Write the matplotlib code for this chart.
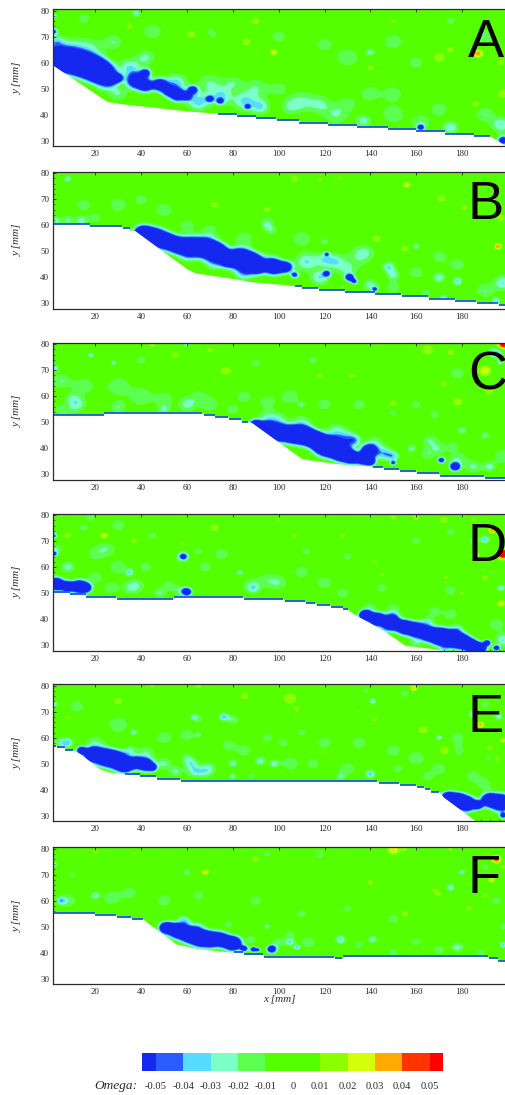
import numpy as np
import matplotlib
matplotlib.use('Agg')
import matplotlib.pyplot as plt
from matplotlib.colors import ListedColormap, BoundaryNorm
from matplotlib.ticker import MultipleLocator

# wall outline of each panel, x and y in mm. flat pieces get the blue line
wall_x_a = [1.7, 25, 32, 45, 60, 73.5, 73.5, 82, 82, 90, 90, 98.7, 99.4, 109, 109, 121.5, 121.5, 134, 134, 147.5, 147.5, 160, 160, 172.5, 172.5, 185, 185, 192, 199.2]
wall_y_a = [59, 45.2, 44.2, 43, 41.5, 40.6, 40.3, 40.3, 39.4, 39.4, 38.6, 38.6, 37.9, 37.9, 37, 37, 36, 36, 35.3, 35.3, 34.5, 34.5, 33.7, 33.7, 32.8, 32.8, 31.9, 31.9, 28]
wall_x_b = [1.5, 17.5, 17.5, 31.5, 32, 35, 35, 37, 59.7, 63.4, 72.8, 81.5, 88, 102, 107, 110, 110, 117, 117.6, 129, 129, 142, 142, 153.5, 153.8, 165, 165.5, 177, 177, 186, 186.5, 195.7, 196, 199.2]
wall_y_b = [60.5, 60.5, 59.7, 59.7, 59, 59, 58, 58.1, 43.4, 41.7, 40.5, 39.3, 38.3, 37.2, 36.7, 36.7, 36, 36, 35.2, 35.2, 34.4, 34.4, 33.6, 33.6, 32.7, 32.7, 31.8, 31.8, 31, 31, 30.2, 30.2, 29.2, 29.2]
wall_x_c = [1.5, 23.6, 24, 66.7, 67.3, 72, 72.4, 78, 78.3, 83.7, 84, 86.6, 88, 110, 118, 125, 132.5, 140.4, 141, 145.5, 146, 152.4, 153, 160, 160.5, 170, 170.5, 189.5, 190, 199.2]
wall_y_c = [52.8, 52.8, 53.7, 53.7, 52.8, 52.8, 52, 52, 51.1, 51.1, 50.2, 50.2, 50, 36, 35, 34.1, 33.5, 33.1, 32.7, 32.7, 31.9, 31.9, 31.2, 31.2, 30.3, 30.3, 29.4, 29.4, 28.6, 28.6]
wall_x_d = [1.5, 8.8, 9, 15.8, 16, 29, 29.5, 54, 54.3, 84.4, 84.9, 102, 102.6, 111.3, 111.8, 116, 116.7, 122.5, 123, 128, 128, 130, 132.4, 145.5, 155, 167.3, 177.5, 199.2]
wall_y_d = [50.4, 50.4, 49.6, 49.6, 48.7, 48.7, 47.8, 47.8, 48.7, 48.7, 47.8, 47.8, 47, 47, 46.2, 46.2, 45.5, 45.5, 44.6, 44.6, 43.8, 43.8, 42.2, 35.8, 30, 28.7, 27, 26.9]
wall_x_e = [1.5, 3, 3.3, 6.6, 7, 10.5, 13.2, 22, 26.3, 32.8, 32.8, 39.3, 39.6, 46.6, 47, 56.8, 57.2, 143, 143.6, 152.4, 152.8, 160, 160.5, 163.3, 163.7, 166, 166.3, 170, 171.7, 186.3, 199.2]
wall_y_e = [57, 57, 56.3, 56.3, 55.3, 55.3, 54, 48, 46.8, 46.2, 46, 46, 45.3, 45.3, 44.3, 44.3, 43.5, 43.5, 42.8, 42.8, 42, 42, 41.1, 41.1, 40.3, 40.3, 39.3, 39.3, 37.3, 27.7, 27.6]
wall_x_f = [1.5, 19.7, 20, 29, 29.5, 35.7, 36, 40.8, 43, 55.3, 64, 74.3, 80, 80.4, 84.4, 84.9, 93, 93.5, 124, 124.6, 127.8, 128, 191.3, 191.7, 195.4, 195.8, 199.2]
wall_y_f = [55.4, 55.4, 54.5, 54.5, 53.6, 53.6, 52.9, 52.9, 51.3, 43.3, 41.6, 40.6, 40.1, 40.2, 40.2, 39.3, 39.3, 38.4, 38.4, 37.8, 37.8, 38.5, 38.5, 37.8, 37.8, 36.9, 36.9]

# omega: x, y, value, radius of the spot
omega_a = [
    (4, 61.5, -.15, 3.6), (9, 60.5, -.15, 3.6), (14, 59.5, -.15, 3.6), (19, 58, -.15, 3.8), (23, 56, -.15, 3.3), (27, 54, -.1, 2), (30, 54, -.08, 1.4),
    (38, 53, -.1, 2.8), (42, 51, -.08, 2.2), (42, 56, -.07, 1.6), (48, 51.5, -.09, 2.3), (52, 49, -.07, 2), (56, 47.5, -.1, 2.2), (60, 47, -.07, 1.5), (62.5, 49.5, -.08, 1.5),
    (70, 46, -.07, 1.1), (74.5, 45.2, -.07, 1), (86.5, 43, -.07, .8), (162, 35, -.08, 1), (198, 30, -.08, 1.6), (2, 72, -.05, 1.2), (2, 78, -.03, 1),
    (25, 52, -.03, 3), (35, 58, -.03, 3.5), (55, 52, -.035, 3.5), (65, 45, -.035, 3.5), (75, 47, -.03, 3.5), (85, 45, -.03, 3.5), (92, 43, -.03, 3),
    (70, 52, -.02, 4), (80, 52, -.018, 3), (90, 50, -.02, 4), (100, 50, -.015, 3), (42, 62, -.022, 3), (30, 48, -.02, 3),
    (3, 68, -.03, 2.5), (10, 66, -.02, 4), (18, 66, -.018, 4), (28, 68, -.02, 3), (137, 37.5, -.025, 2.5), (162, 37, -.02, 3), (175, 35, -.03, 2.5),
    (150, 40, -.018, 4), (125, 40, -.02, 4), (110, 45, -.022, 4), (118, 44, -.02, 3.5), (105, 43, -.018, 3), (130, 44, -.015, 3), (140, 48, -.015, 4),
    (150, 48, -.018, 3), (170, 42, -.018, 3), (190, 40, -.02, 3), (197, 36, -.03, 3), (15, 77, -.015, 2.5), (38, 79, -.025, 1.5), (45, 72, -.015, 4),
    (70, 71, -.015, 3), (100, 70, -.015, 3), (120, 67, -.016, 3), (130, 62, -.018, 4), (140, 64, -.025, 1.5), (150, 68, -.015, 4), (160, 60, -.015, 3),
    (175, 76, -.02, 1.5), (190, 70, -.015, 4),
    (35, 74, .013, 2), (62, 71, .015, 2), (68, 70, .013, 1.5), (86, 68, .015, 2), (98, 64, .025, 1.4), (90, 76, .014, 2), (140, 58, .015, 1.5),
    (170, 62, .015, 2.5), (187, 63.5, .04, 1.6), (175, 65, .012, 2), (197, 60, .013, 2), (198, 48, .013, 3), (186, 44, .022, 1.2), (150, 76, .012, 1.5),
]
omega_b = [
    (41, 57, -.15, 2.6), (46, 55.5, -.15, 3), (51, 54, -.15, 2.6), (56, 52.5, -.15, 2.6), (62, 52, -.15, 3), (68, 51.5, -.15, 3.2), (73, 50, -.15, 2.8),
    (78, 47, -.15, 2.4), (83, 47.5, -.15, 3.2), (88, 46, -.15, 3), (91, 44, -.12, 2.2), (98, 44, -.13, 2.5), (103, 44, -.1, 2), (107, 41, -.06, 1.2),
    (121, 41.5, -.07, 1.1), (121, 49, -.05, .7), (131, 40, -.09, 1.3), (133, 38.5, -.06, 1), (142, 35.5, -.06, .8),
    (85, 42, -.035, 3), (72, 46, -.03, 3), (60, 49, -.025, 3), (96, 46, -.03, 3), (112, 46, -.03, 3.5), (120, 47, -.025, 3), (125, 46, -.025, 3),
    (118, 40, -.03, 3), (130, 43, -.02, 3), (140, 37, -.025, 2.5), (148, 44, -.03, 2), (150, 41, -.025, 2), (170, 40, -.028, 2), (178, 38.5, -.032, 1.6),
    (172, 32, -.03, 1.3), (190, 35, -.02, 3), (198, 38, -.03, 3), (195, 31, -.03, 1.4), (150, 50, -.015, 3), (135, 48, -.018, 4), (160, 42, -.015, 3),
    (95, 60, -.016, 1.8), (97, 58, -.016, 1.8), (95, 62, -.012, 3), (85, 55, -.018, 3), (70, 58, -.016, 3), (50, 66, -.018, 3), (30, 68, -.018, 3),
    (15, 68, -.018, 2.5), (8, 62, -.022, 2), (14, 62, -.025, 2), (20, 63, -.018, 2), (40, 70, -.014, 3), (8, 78, -.03, 1.2), (3, 62, -.025, 1.5),
    (60, 60, -.015, 3), (110, 55, -.015, 4), (120, 54, -.02, 1.3), (178, 45, -.015, 3), (164, 34, -.015, 2), (150, 36, -.015, 3), (160, 52, -.025, 1.2),
    (170, 48, -.015, 3), (138, 50, -.014, 3),
    (72, 68, .015, 1.6), (95, 66, .015, 2), (107, 78, .014, 2), (118, 77.7, .012, 1.5), (126.6, 78, .012, 1.5), (156, 75.7, .025, 1.3), (171, 70.5, .014, 2),
    (155, 51, .022, 1.3), (142.6, 54.8, .015, 2), (195.7, 52, .04, 1.2), (197, 63, .018, 1.5), (181, 67, .013, 2), (128, 36.3, .013, 1), (151, 50.5, .013, 2),
]
omega_c = [
    (90, 49, -.13, 1.8), (95, 47.5, -.15, 2.4), (100, 46, -.15, 2.8), (106, 45.5, -.15, 2.8), (111, 45, -.15, 3), (116, 43.5, -.15, 2.6), (120, 41, -.15, 3),
    (124, 40.5, -.15, 3.2), (128, 38, -.15, 2.6), (132, 36.5, -.15, 2), (137, 36, -.13, 2), (139.5, 39, -.13, 2.2), (140, 35, -.1, 1.5),
    (150, 34.5, -.06, .8), (171, 35.5, -.08, 1), (177, 33, -.1, 1.5),
    (130, 44, -.03, 3), (133, 43, -.03, 2), (125, 47, -.022, 3), (146, 38, -.035, 2.5), (142, 42, -.02, 3), (150, 37, -.03, 2), (170, 40, -.018, 2.5),
    (165, 38, -.018, 2.5), (176, 41, -.018, 1.8), (185, 33, -.022, 2.5), (178, 36, -.02, 3), (192, 33, -.025, 2), (158, 40, -.025, 1.5), (166, 43, -.02, 2.5),
    (110, 50, -.02, 3), (100, 51, -.02, 3), (95, 52, -.018, 3), (105, 60, -.016, 3.5), (110, 57, -.02, 1.2), (95, 58, -.015, 3), (85, 60, -.015, 3),
    (80, 55, -.015, 2.5), (120, 57, -.015, 3), (180, 47, -.022, 1.7), (190, 45, -.022, 1.5), (198, 37, -.02, 3),
    (10, 59, -.02, 2.5), (13, 57, -.018, 2.5), (5, 55, -.018, 2), (10, 55, -.012, 2.5), (5, 66, -.02, 3), (15, 64, -.016, 4), (30, 64, -.018, 4),
    (30, 56, -.02, 2.5), (40, 60, -.018, 4), (50, 59, -.018, 3), (60, 57, -.024, 2.8), (50, 55, -.02, 2), (65, 60, -.015, 3), (70, 57, -.018, 3),
    (2, 71, -.03, 1.5), (18, 76, -.03, 1), (28, 73, -.025, 1), (60, 80, -.025, 1), (40, 74, -.015, 2), (135, 57, -.014, 3), (150, 54, -.016, 2),
    (160, 57, -.016, 2), (168, 53, -.015, 2), (195, 77, -.04, 2.2), (197, 73, -.03, 1.4), (178, 69, -.015, 3), (90, 73, -.015, 2), (115, 74, -.014, 2),
    (77, 70, .016, 2.2), (55, 76, .013, 2), (45, 80, .012, 2), (70, 78, .012, 2), (165, 78, .014, 3), (175, 77, .013, 2), (190, 70, .03, 2),
    (198, 80, .06, 2), (198, 72, .015, 1.5), (150, 57, .013, 2.5), (178, 58, .014, 2.5), (172, 65, .015, 1.5), (192, 62, .015, 2), (132, 68, .012, 1.5), (118, 68, .013, 1.5),
]
omega_d = [
    (3, 53.5, -.13, 2.2), (8, 52.5, -.12, 1.8), (13, 52.5, -.13, 2.2), (16, 52, -.1, 1.6), (2, 65, -.06, 1), (2, 72, -.05, 1),
    (58.5, 64, -.07, .9), (58, 64, -.03, 2.2), (60, 50.5, -.1, 1.4), (57, 51, -.02, 2),
    (138, 41.5, -.15, 1.8), (143, 40, -.15, 2.2), (149, 38.5, -.15, 2.4), (155, 37, -.15, 2.3), (160, 36, -.15, 2.4), (165, 34.5, -.15, 2.2),
    (170, 33.5, -.15, 2.8), (175, 32.5, -.15, 2.8), (180, 31.5, -.15, 2.4), (184, 30, -.15, 2), (188, 29, -.13, 1.8), (191, 31, -.1, 1), (195, 29, -.08, 1),
    (150, 41, -.025, 2), (165, 39, -.025, 2), (178, 36, -.025, 2), (145, 35, -.02, 1.5), (160, 31, -.018, 2), (172, 28, -.02, 1.6), (198, 32, -.03, 2.5),
    (195, 38, -.016, 3), (140, 45, -.016, 2), (150, 44, -.016, 2.5), (168, 43, -.02, 2), (175, 42, -.018, 2.5),
    (89, 52, -.02, 2), (88, 53, -.014, 3.5), (83, 58, -.025, 1.1), (30, 60, -.018, 3), (35, 58, -.03, 1.3), (38, 53, -.018, 3), (48, 50, -.02, 2),
    (52, 53, -.015, 2.5), (20, 56, -.015, 3), (27, 52, -.018, 2.5), (35, 52, -.015, 2.5), (8, 60, -.025, 2.2), (25, 67, -.018, 3), (20, 65, -.015, 3),
    (42, 60, -.015, 2.5), (68, 60, -.02, 2), (75, 65, -.015, 3), (110, 58, -.015, 3), (100, 54, -.018, 3), (120, 54, -.016, 3), (95, 55, -.014, 3),
    (128, 50, -.016, 2.5), (145, 52, -.016, 2), (175, 51, -.02, 2), (190, 70.5, -.035, 1.5), (185, 70, -.02, 1.5), (197, 52, -.03, 1.3), (160, 70, -.015, 2),
    (175, 73.5, -.02, 1.5), (130, 64, -.014, 2), (112, 66, -.014, 2), (18, 79, -.014, 2), (30, 76, -.015, 3), (45, 72, -.014, 2), (15, 75, -.014, 2),
    (65, 66, -.014, 2), (3, 67, -.02, 2),
    (24, 72, .025, 1.5), (8, 72, .013, 2), (37, 70, .014, 1.5), (72, 75, .015, 2), (58, 69, .013, 1.2), (100, 78, .012, 1.5), (107, 72, .012, 1.5),
    (128, 72, .012, 1.5), (142, 62, .012, 1.2), (145, 57, .012, 1.5), (172, 78, .018, 1.5), (160, 79, .013, 2), (150, 79, .012, 2), (186, 64.5, .03, 1.3),
    (198, 65, .08, 1.8), (188, 76, .02, 1), (193, 74, .04, 1.1), (197, 46, .028, 1.3), (185, 78, .016, 1), (190, 56, .014, 1.5), (180, 50, .013, 1.5), (173, 56, .012, 1.5),
]
omega_e = [
    (14, 55, -.1, 1.4), (19, 53.5, -.14, 2.4), (24, 52.5, -.15, 2.8), (29, 51.5, -.15, 2.8), (33, 49.5, -.15, 2.5), (38, 50.5, -.1, 2), (42, 49.5, -.12, 2.2), (45, 48.5, -.08, 1.3),
    (174, 37, -.13, 1.9), (178, 36, -.15, 2.3), (182, 34.5, -.15, 2.5), (187, 34, -.12, 1.4), (192, 36, -.14, 2.2), (197, 35, -.15, 2.8), (198, 30, -.07, 1.1),
    (8, 58, -.03, 1.8), (5, 58, -.02, 2.3), (20, 58, -.018, 3), (35, 55, -.022, 2), (42, 54, -.02, 3), (50, 50, -.022, 2.5), (55, 47, -.022, 2),
    (62, 50, -.022, 2.2), (65, 47, -.02, 2.2), (69, 47, -.02, 2.3), (70, 49, -.012, 2.5), (60, 52, -.018, 2), (62, 47, -.014, 2.5),
    (80, 45, -.025, 1.2), (88, 45, -.02, 1.2), (80, 50, -.025, 1.5), (92, 51, -.025, 1.8), (98, 50, -.028, 1.5), (105, 50, -.018, 3), (115, 50, -.016, 2.5),
    (140, 46, -.035, 1.6), (130, 48, -.016, 3), (127, 45, -.02, 1.5), (178, 55, -.015, 3), (160, 52, -.016, 3.5), (150, 55, -.018, 2.5), (170, 48, -.018, 2.5),
    (185, 45, -.015, 3), (165, 45, -.018, 2), (152, 48, -.015, 2), (190, 42, -.016, 2.5),
    (76, 68, -.035, 1.5), (80, 67, -.02, 2), (63, 68, -.025, 1.1), (65, 67, -.014, 2), (30, 65, -.016, 4), (37, 62, -.025, 1.2), (50, 60, -.016, 3),
    (60, 61, -.015, 3), (65, 61, -.02, 1), (2, 73, -.03, 1.2), (12, 72, -.018, 2.5), (85, 55, -.015, 3), (78, 57, -.016, 2.5), (95, 60, -.016, 2),
    (102, 58, -.016, 2), (110, 62, -.014, 2), (120, 58, -.015, 3), (135, 58, -.015, 3), (170, 60, -.028, 1.1), (178, 60, -.016, 2.5), (185, 69, -.03, 1.6),
    (196, 68, -.03, 1.2), (141, 74, -.03, 1.2), (138, 78, -.014, 1.5), (175, 72, -.015, 2), (190, 73, -.015, 2), (155, 77, -.014, 2), (192, 52, -.02, 1.2),
    (159, 79, .032, 1.2), (30, 74, .015, 2), (8, 68, .012, 1.5), (85, 76, .014, 2), (105, 75, .018, 2.5), (108, 71, .012, 1.5), (135, 70, .012, 1.2),
    (142, 67, .012, 1.5), (175, 73, .016, 2), (163, 63, .016, 2), (173, 55, .018, 2.5), (188, 65, .035, 1.2), (198, 59, .025, 1.1), (195, 52, .013, 1.8),
    (192, 56, .012, 2), (120, 54, .014, 1.2), (65, 80, .012, 2), (45, 80, .012, 1.5),
]
omega_f = [
    (51, 49.5, -.13, 2), (56, 48.5, -.15, 2.5), (61, 47, -.15, 2.6), (66, 45.5, -.15, 2.8), (71, 45, -.15, 2.5), (76, 44.5, -.12, 2), (80, 43.5, -.15, 2.4),
    (85, 41.5, -.08, 1.1), (89, 41.2, -.08, 1), (91, 41, -.06, .7), (97, 41.3, -.1, 1.4),
    (65, 50, -.018, 2), (75, 47, -.022, 2), (88, 45, -.02, 1.6), (100, 44, -.02, 2), (105, 44, -.03, 1.5), (108, 42, -.035, 1), (113, 44, -.018, 2.5),
    (95, 50, -.025, 1), (60, 52, -.02, 1.5), (58, 53, -.02, 1.5), (78, 51, -.018, 1.5), (127, 45, -.02, 1.4), (127, 45, -.012, 2.5), (141, 45, -.025, 1.5),
    (150, 40, -.02, 1.5), (170, 41, -.018, 2), (178, 42, -.025, 2), (188, 40, -.02, 1.5), (198, 43, -.035, 1.2), (160, 44, -.015, 2), (135, 43, -.014, 2),
    (105, 47, -.014, 2), (20, 62, -.03, 1.4), (5, 60, -.03, 1.5), (8, 60, -.018, 3), (27, 61, -.018, 3), (35, 63, -.015, 3), (50, 60, -.015, 3),
    (65, 62, -.018, 2), (90, 60, -.015, 2.5), (110, 55, -.015, 2), (130, 57, -.014, 2), (118, 78, -.014, 2), (118, 72, -.016, 3), (150, 53, -.018, 2),
    (175, 65, -.03, 1.3), (170, 60, -.012, 2), (180, 71, -.04, .8), (2, 74, -.03, 1), (198, 50, -.02, 1.2), (195, 60, -.016, 2), (10, 70, -.012, 2),
    (60, 71, -.014, 2), (95, 78, -.013, 2), (190, 73, -.016, 1.5),
    (68, 71, .028, 1.2), (150, 79.5, .03, 1.8), (155, 80, .012, 2), (175, 80, .012, 1.5), (20, 79, .012, 1.5), (37, 78, .013, 1.2), (90, 76, .014, 1.8),
    (118, 71, .012, 2), (195, 76, .05, 1.4), (193, 68, .03, 1.1), (168, 64, .012, 1.5), (170, 62, .016, 1.5), (190, 62, .013, 1.5), (172, 58, .012, 1),
    (183, 57, .014, 1.4), (155, 55, .018, 1.3), (125, 56, .012, 1), (198, 73, .013, 1.5), (140, 67, .014, 1.5),
]

panel_names = ['A', 'B', 'C', 'D', 'E', 'F']
panel_omega = [omega_a, omega_b, omega_c, omega_d, omega_e, omega_f]
panel_wall_x = [wall_x_a, wall_x_b, wall_x_c, wall_x_d, wall_x_e, wall_x_f]
panel_wall_y = [wall_y_a, wall_y_b, wall_y_c, wall_y_d, wall_y_e, wall_y_f]

levels = [-0.05, -0.04, -0.03, -0.02, -0.01, 0, 0.01, 0.02, 0.03, 0.04, 0.05]
level_labels = ['-0.05', '-0.04', '-0.03', '-0.02', '-0.01', '0', '0.01', '0.02', '0.03', '0.04', '0.05']
level_colors = ['#1428f0', '#2b5cff', '#55ddff', '#7dffc8', '#5cff50', '#55ff00', '#55ff00',
                '#8cff00', '#d4ff0a', '#ffaa00', '#ff3300', '#ff0000']

W, H = 506, 1095
tops = [9.3, 171.7, 342.7, 513.7, 684.3, 847]
letter_base = [57.3, 219, 390, 560.7, 731.7, 893.3]
ax_h = 137
ax_left = 53.3
serif = 'Liberation Serif'
dark = '#2a2a2a'

cmap = ListedColormap(level_colors)
norm = BoundaryNorm([-9] + levels + [9], cmap.N)

fig = plt.figure(figsize=(W / 100, H / 100), dpi=100)

xs = np.linspace(1.7, 199.1, 900)
ys = np.linspace(27.9, 80.6, 550)
xx, yy = np.meshgrid(xs, ys)

for i, name in enumerate(panel_names):
    ax = fig.add_axes([ax_left / W, 1 - (tops[i] + ax_h) / H, (W - ax_left) / W, ax_h / H])

    field = np.zeros_like(xx)
    for x0, y0, w, r in panel_omega[i]:
        field += w * np.exp(-((xx - x0) / (1.4 * r)) ** 2 - ((yy - y0) / r) ** 2)
    ax.imshow(field, origin='lower', extent=[xs[0], xs[-1], ys[0], ys[-1]], aspect='auto', cmap=cmap, norm=norm,
              interpolation='antialiased', interpolation_stage='rgba')

    # white below the wall, blue line along its flat pieces
    wx = np.array(panel_wall_x[i])
    wy = np.array(panel_wall_y[i])
    ax.fill_between(wx, 20, wy, color='white', lw=0, zorder=2)
    for k in range(len(wx) - 1):
        if wy[k] == wy[k + 1]:
            ax.plot(wx[k:k + 2], wy[k:k + 2], color='#1a50f0', lw=1.25, solid_capstyle='butt', zorder=3)

    ax.set_xlim(1.7, 199.1)
    ax.set_ylim(27.9, 80.6)
    ax.set_xticks(range(20, 181, 20))
    ax.set_yticks(range(30, 81, 10))
    ax.xaxis.set_minor_locator(MultipleLocator(4))
    ax.yaxis.set_minor_locator(MultipleLocator(2))
    ax.tick_params(which='major', direction='in', length=2.5, width=0.6, color=dark, top=True, pad=3,
                   labelsize=6.5, labelcolor=dark)
    ax.tick_params(which='minor', direction='in', length=1.2, width=0.4, color=dark)
    for lab in ax.get_xticklabels() + ax.get_yticklabels():
        lab.set_family(serif)
    for side in ['left', 'bottom', 'top']:
        ax.spines[side].set_color(dark)
        ax.spines[side].set_linewidth(0.9)
        ax.spines[side].set_zorder(5)
    ax.spines['right'].set_visible(False)
    ax.set_ylabel('y [mm]', family=serif, style='italic', fontsize=8, color=dark, labelpad=13)
    if name == 'F':
        ax.set_xlabel('x [mm]', family=serif, style='italic', fontsize=8, color=dark, labelpad=-1)

    fig.text(468 / W, 1 - letter_base[i] / H, name, family='Liberation Sans', fontsize=39, color='black',
             ha='left', va='baseline', zorder=10)

# colour bar
cax = fig.add_axes([142.3 / W, 1 - 1071.3 / H, (443.3 - 142.3) / W, 18.6 / H])
edges = [-0.055] + levels + [0.055]
for k, col in enumerate(level_colors):
    cax.axvspan(edges[k], edges[k + 1], color=col, lw=0)
cax.set_xlim(-0.055, 0.055)
cax.set_yticks([])
cax.set_xticks(levels)
cax.set_xticklabels(level_labels, family=serif, fontsize=7.6, color=dark)
cax.tick_params(length=0, pad=7.5)
for s in cax.spines.values():
    s.set_visible(False)
fig.text(137 / W, 1 - 1086 / H, 'Omega:', family=serif, style='italic', fontsize=9.6, color=dark, ha='right', va='center')

fig.savefig('out.png', dpi=100)
